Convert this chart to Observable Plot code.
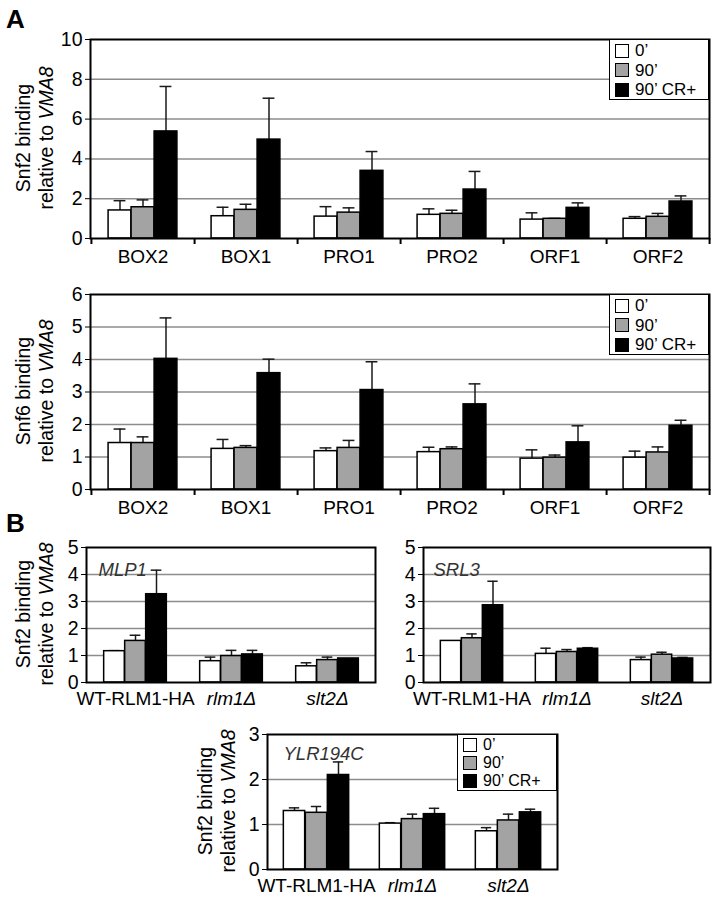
<!DOCTYPE html>
<html><head><meta charset="utf-8">
<script src="https://cdn.jsdelivr.net/npm/d3@7"></script>
<script src="https://cdn.jsdelivr.net/npm/@observablehq/plot@0.6"></script>
<style>
body{margin:0;background:#fff;}
#fig{position:relative;width:712px;height:899px;font-family:"Liberation Sans",Arial,sans-serif;color:#000;overflow:hidden;}
.ytitle{position:absolute;transform:translate(-50%,-50%) rotate(-90deg);white-space:nowrap;text-align:center;font-size:19.5px;line-height:23px;}
.legend{position:absolute;background:#fff;border:1.5px solid #000;box-sizing:border-box;padding-left:5px;}
.legend .row{display:flex;align-items:center;overflow:visible;}
.legend .row span{white-space:nowrap;}
.legend .sw{width:14px;height:14px;border:1.5px solid #000;box-sizing:border-box;margin-right:6px;flex:none;}
.letter{position:absolute;font-weight:bold;font-size:26px;line-height:26px;}
.pl{position:absolute;}
</style></head><body><div id="fig"></div>
<script>
// ---------- data ----------
const seriesNames = ["0’", "90’", "90’ CR+"];
const regionsA = ["BOX2", "BOX1", "PRO1", "PRO2", "ORF1", "ORF2"];
const strainsB = ["WT-RLM1-HA", "rlm1Δ", "slt2Δ"];
const italicStrains = ["rlm1Δ", "slt2Δ"];

// Panel A, Snf2
const snf2_0   = [1.41, 1.12, 1.10, 1.19, 0.95, 0.99];
const snf2_0sd = [0.49, 0.45, 0.50, 0.30, 0.34, 0.11];
const snf2_90   = [1.57, 1.44, 1.30, 1.24, 0.99, 1.09];
const snf2_90sd = [0.37, 0.28, 0.24, 0.18, 0.02, 0.17];
const snf2_cr   = [5.38, 4.97, 3.40, 2.46, 1.54, 1.86];
const snf2_crsd = [2.26, 2.08, 0.97, 0.91, 0.25, 0.28];
const ticksA1 = [0, 2, 4, 6, 8, 10];

// Panel A, Snf6
const snf6_0   = [1.43, 1.25, 1.18, 1.15, 0.95, 0.98];
const snf6_0sd = [0.43, 0.29, 0.10, 0.15, 0.27, 0.20];
const snf6_90   = [1.43, 1.28, 1.28, 1.24, 0.98, 1.14];
const snf6_90sd = [0.19, 0.07, 0.23, 0.07, 0.08, 0.17];
const snf6_cr   = [4.02, 3.58, 3.06, 2.62, 1.45, 1.96];
const snf6_crsd = [1.26, 0.43, 0.87, 0.63, 0.51, 0.17];
const ticksA2 = [0, 1, 2, 3, 4, 5, 6];

// Panel B, MLP1
const mlp1_0   = [1.16, 0.79, 0.60];
const mlp1_0sd = [0.02, 0.15, 0.13];
const mlp1_90   = [1.54, 0.98, 0.83];
const mlp1_90sd = [0.21, 0.21, 0.11];
const mlp1_cr   = [3.27, 1.04, 0.89];
const mlp1_crsd = [0.89, 0.15, 0.00];

// Panel B, SRL3
const srl3_0   = [1.54, 1.06, 0.83];
const srl3_0sd = [0.00, 0.21, 0.11];
const srl3_90   = [1.64, 1.13, 1.03];
const srl3_90sd = [0.16, 0.09, 0.09];
const srl3_cr   = [2.86, 1.25, 0.89];
const srl3_crsd = [0.89, 0.04, 0.04];
const ticksB = [0, 1, 2, 3, 4, 5];

// Panel B, YLR194C
const ylr_0   = [1.30, 1.02, 0.85];
const ylr_0sd = [0.07, 0.02, 0.08];
const ylr_90   = [1.26, 1.12, 1.09];
const ylr_90sd = [0.14, 0.11, 0.14];
const ylr_cr   = [2.10, 1.23, 1.27];
const ylr_crsd = [0.29, 0.13, 0.07];
const ticksB3 = [0, 1, 2, 3];

// ---------- style ----------
const fills = ["#ffffff", "#a3a3a3", "#000000"];
const fig = document.getElementById("fig");

function panel(cfg) {
  const {cats, vals, sds, yTicks, left, top, width, height, margin, barW, capW,
         labelDy, boundaryTicks, gene, geneDx, geneDy} = cfg;
  const yMax = yTicks[yTicks.length - 1];
  const innerW = width - margin.left - margin.right;
  const innerH = height - margin.top - margin.bottom;
  const bw = innerW / cats.length;
  const inset = (bw - barW) / 2;
  const capInset = (bw - capW) / 2;
  const rows = [];
  vals.forEach((arr, s) => arr.forEach((v, i) => rows.push({cat: cats[i], s, v, top: v + sds[s][i]})));
  const marks = [
    Plot.ruleY(yTicks.filter(t => t > 0 && t < yMax), {stroke: "#8c8c8c", strokeWidth: 1.5})
  ];
  if (gene) marks.push(Plot.text([gene], {frameAnchor: "top-left", dx: geneDx, dy: geneDy, textAnchor: "start", fontStyle: "italic", fontSize: 18.5, fill: "#333"}));
  seriesNames.forEach((name, s) => {
    const d = rows.filter(r => r.s === s);
    const e = d.filter(r => r.top > r.v + 0.005);
    const dx = (s - 1) * barW;
    marks.push(Plot.ruleX(e, {x: "cat", y1: "v", y2: "top", dx, stroke: "#1a1a1a", strokeWidth: 1.5}));
    marks.push(Plot.tickY(e, {x: "cat", y: "top", dx, insetLeft: capInset, insetRight: capInset, stroke: "#1a1a1a", strokeWidth: 1.5}));
    marks.push(Plot.barY(d, {x: "cat", y: "v", dx, insetLeft: inset, insetRight: inset, fill: fills[s], stroke: "#000", strokeWidth: 1.5}));
  });
  const upright = cats.filter(c => !italicStrains.includes(c));
  const ital = cats.filter(c => italicStrains.includes(c));
  marks.push(Plot.text(upright, {x: d => d, frameAnchor: "bottom", dy: labelDy, fontSize: 19}));
  if (ital.length) marks.push(Plot.text(ital, {x: d => d, frameAnchor: "bottom", dy: labelDy, fontSize: 19, fontStyle: "italic"}));
  if (boundaryTicks) {
    const below = -6 * yMax / innerH;
    marks.push(Plot.ruleX(cats, {x: d => d, y1: 0, y2: below, dx: bw / 2, stroke: "#000", strokeWidth: 2}));
    marks.push(Plot.ruleX(cats.slice(0, 1), {x: d => d, y1: 0, y2: below, dx: -bw / 2, stroke: "#000", strokeWidth: 2}));
  }
  marks.push(Plot.frame({stroke: "#000", strokeWidth: 2}));
  const svg = Plot.plot({
    width, height,
    marginLeft: margin.left, marginRight: margin.right, marginTop: margin.top, marginBottom: margin.bottom,
    style: {fontSize: "19.5px", fontFamily: "'Liberation Sans', Arial, sans-serif", color: "#000", background: "transparent", overflow: "visible"},
    x: {type: "band", domain: cats, padding: 0, axis: null},
    y: {domain: [0, yMax], ticks: yTicks, tickSize: 5, tickPadding: 3, label: null, tickFormat: d => String(d)},
    marks
  });
  svg.classList.add("pl");
  svg.style.left = left + "px";
  svg.style.top = top + "px";
  fig.appendChild(svg);
}

function ytitle(first, cx, cy) {
  const d = document.createElement("div");
  d.className = "ytitle";
  d.style.left = cx + "px"; d.style.top = cy + "px";
  d.innerHTML = first + "<br>relative to <i>VMA8</i>";
  fig.appendChild(d);
}

function legend(left, top, w, h, rowH, padTop, fontSize) {
  const d = document.createElement("div");
  d.className = "legend";
  Object.assign(d.style, {left: left + "px", top: top + "px", width: w + "px", height: h + "px",
    paddingTop: padTop + "px", fontSize: fontSize + "px"});
  seriesNames.forEach((n, s) => {
    const r = document.createElement("div");
    r.className = "row"; r.style.height = rowH + "px";
    const sw = document.createElement("div"); sw.className = "sw"; sw.style.background = fills[s];
    const t = document.createElement("span"); t.textContent = n;
    t.style.lineHeight = rowH + "px";
    r.appendChild(sw); r.appendChild(t); d.appendChild(r);
  });
  fig.appendChild(d);
}

function letter(txt, x, y) {
  const d = document.createElement("div");
  d.className = "letter"; d.textContent = txt;
  d.style.left = x + "px"; d.style.top = y + "px";
  fig.appendChild(d);
}

// ---------- panels ----------
panel({cats: regionsA, vals: [snf2_0, snf2_90, snf2_cr], sds: [snf2_0sd, snf2_90sd, snf2_crsd], yTicks: ticksA1,
  left: 0, top: 0, width: 712, height: 275, margin: {left: 90, right: 3, top: 39, bottom: 37},
  barW: 23, capW: 12, labelDy: 24, boundaryTicks: true});
panel({cats: regionsA, vals: [snf6_0, snf6_90, snf6_cr], sds: [snf6_0sd, snf6_90sd, snf6_crsd], yTicks: ticksA2,
  left: 0, top: 275, width: 712, height: 251, margin: {left: 90, right: 3, top: 19, bottom: 37},
  barW: 23, capW: 12, labelDy: 24, boundaryTicks: true});
panel({cats: strainsB, vals: [mlp1_0, mlp1_90, mlp1_cr], sds: [mlp1_0sd, mlp1_90sd, mlp1_crsd], yTicks: ticksB,
  left: 0, top: 526, width: 380, height: 195, margin: {left: 86, right: 5, top: 21, bottom: 39},
  barW: 21, capW: 11, labelDy: 22, gene: "MLP1", geneDx: 12, geneDy: 15});
panel({cats: strainsB, vals: [srl3_0, srl3_90, srl3_cr], sds: [srl3_0sd, srl3_90sd, srl3_crsd], yTicks: ticksB,
  left: 380, top: 526, width: 332, height: 195, margin: {left: 43, right: 2, top: 21, bottom: 39},
  barW: 21, capW: 11, labelDy: 22, gene: "SRL3", geneDx: 10, geneDy: 15});
panel({cats: strainsB, vals: [ylr_0, ylr_90, ylr_cr], sds: [ylr_0sd, ylr_90sd, ylr_crsd], yTicks: ticksB3,
  left: 180, top: 721, width: 400, height: 178, margin: {left: 87, right: 23, top: 13, bottom: 30},
  barW: 22, capW: 11, labelDy: 22, gene: "YLR194C", geneDx: 16, geneDy: 12});

ytitle("Snf2 binding", 35, 138);
ytitle("Snf6 binding", 35, 391);
ytitle("Snf2 binding", 35, 614);
ytitle("Snf2 binding", 217, 801);

legend(609, 39, 100, 61, 19.5, 1, 17);
legend(609, 294, 100, 61, 19.5, 1, 17);
legend(457, 734, 100, 57, 18, 1, 16);

letter("A", 6, 6);
letter("B", 6, 510);
</script>
</body></html>
